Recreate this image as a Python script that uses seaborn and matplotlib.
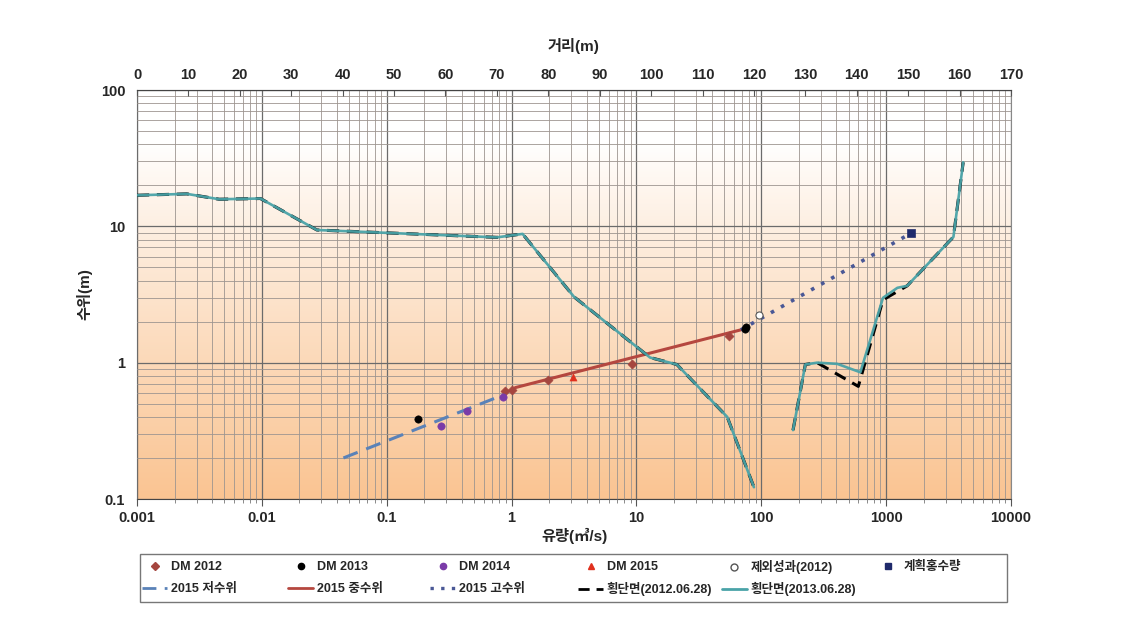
import numpy as np
import pandas as pd
import seaborn as sns
import matplotlib.pyplot as plt
from matplotlib.lines import Line2D
from matplotlib.patches import Rectangle
from matplotlib.ticker import FixedLocator, LogLocator, NullFormatter, FuncFormatter

# ---- data ----
# rating curves (discharge m3/s, stage m)
low_q = [0.045, 0.9]
low_h = [0.20, 0.59]
mid_q = [1.07, 68.5]
mid_h = [0.656, 1.74]
high_q = [68.5, 1580]
high_h = [1.74, 8.9]

# measurements
dm2012_q = [0.89, 1.0, 1.94, 9.3, 54.8]
dm2012_h = [0.624, 0.635, 0.74, 0.98, 1.58]
dm2013_q = [0.179, 75.1, 74.0]
dm2013_h = [0.383, 1.83, 1.77]
dm2014_q = [0.274, 0.443, 0.86]
dm2014_h = [0.346, 0.445, 0.564]
dm2015_q = [3.08]
dm2015_h = [0.79]
excl_q = [95.5]
excl_h = [2.24]
plan_q = [1580]
plan_h = [8.9]

# cross sections (distance m, elevation m)
xs2013_d = [0, 9.7, 16, 24, 35, 70, 75, 85, 99.8, 105, 114.8, 120, None,
            127.6, 130, 132.3, 136.2, 140.7, 145.1, 147.9, 149.8, 158.8, 160.7]
xs2013_h = [16.9, 17.3, 15.8, 16.0, 9.4, 8.3, 8.8, 3.04, 1.09, 0.97, 0.40, 0.122, None,
            0.32, 0.97, 1.0, 0.98, 0.85, 2.99, 3.54, 3.66, 8.36, 29.5]
xs2012_d = [0, 9.7, 16, 24, 35, 70, 75, 85, 99.8, 105, 114.8, 120, None,
            127.6, 130, 132.3, 140.3, 145.1, 149.8, 158.8, 160.7]
xs2012_h = [16.9, 17.3, 15.8, 16.0, 9.4, 8.3, 8.8, 3.04, 1.09, 0.97, 0.40, 0.122, None,
            0.32, 0.97, 1.0, 0.67, 2.89, 3.66, 8.36, 29.5]

x_ticks = [0.001, 0.01, 0.1, 1, 10, 100, 1000, 10000]
y_ticks = [0.1, 1, 10, 100]
top_ticks = list(range(0, 180, 10))

sns.set_style("white")
plt.rcParams['font.family'] = ['Liberation Sans', 'Noto Sans CJK KR', 'DejaVu Sans']
plt.rcParams['font.weight'] = 'bold'

W, H = 1130, 624
fig = plt.figure(figsize=(W / 100, H / 100), dpi=100)
ax = fig.add_axes([137 / W, 1 - 499 / H, 874 / W, 409 / H])
ax.set_xscale('log')
ax.set_yscale('log')
ax.set_xlim(0.001, 10000)
ax.set_ylim(0.1, 100)

# gradient background
grad = np.linspace(0, 1, 256)
t = np.clip((grad - 0.13) / 0.87, 0, 1) ** 0.9
top_c = np.array([1.0, 1.0, 1.0])
bot_c = np.array([250, 196, 146]) / 255
img = top_c[None, :] * (1 - t[:, None]) + bot_c[None, :] * t[:, None]
img = img[:, None, :]
ax.imshow(img, extent=[0, 1, 0, 1], transform=ax.transAxes, aspect='auto',
          origin='upper', zorder=0)

# grid
ax.xaxis.set_minor_locator(LogLocator(base=10, subs=np.arange(2, 10), numticks=20))
ax.yaxis.set_minor_locator(LogLocator(base=10, subs=np.arange(2, 10), numticks=20))
ax.grid(True, which='major', color='#6b6b6b', lw=0.9, zorder=1)
ax.grid(True, which='minor', color='#9d9590', lw=0.6, zorder=1)
ax.set_axisbelow(False)

ax.xaxis.set_major_locator(FixedLocator(x_ticks))
ax.yaxis.set_major_locator(FixedLocator(y_ticks))
ax.xaxis.set_major_formatter(FuncFormatter(lambda v, p: f'{v:g}'))
ax.yaxis.set_major_formatter(FuncFormatter(lambda v, p: f'{v:g}'))
ax.xaxis.set_minor_formatter(NullFormatter())
ax.yaxis.set_minor_formatter(NullFormatter())
ax.tick_params(axis='both', which='major', labelsize=10.5, length=5, color='#555555')
ax.tick_params(axis='both', which='minor', length=3, color='#777777')
ax.tick_params(axis='y', which='minor', left=False)

for s in ['left', 'bottom']:
    ax.spines[s].set_color('#444444')
for s in ['right', 'top']:
    ax.spines[s].set_color('#888888')

# rating curves
sns.lineplot(x=low_q, y=low_h, ax=ax, color='#5A82B8', lw=2.2,
             linestyle=(0, (5, 3)), zorder=4, legend=False)
sns.lineplot(x=mid_q, y=mid_h, ax=ax, color='#B5473F', lw=2.2, zorder=4, legend=False)
sns.lineplot(x=high_q, y=high_h, ax=ax, color='#4A5896', lw=2.6,
             linestyle=(0, (1, 2.2)), zorder=4, legend=False)

# measurement points
sns.scatterplot(x=dm2012_q, y=dm2012_h, ax=ax, marker='D', s=22, color='#A5463F',
                edgecolor='#A5463F', zorder=5, legend=False)
sns.scatterplot(x=dm2013_q, y=dm2013_h, ax=ax, marker='o', s=28, color='black',
                edgecolor='black', zorder=5, legend=False)
sns.scatterplot(x=dm2014_q, y=dm2014_h, ax=ax, marker='o', s=28, color='#7A3BA8',
                edgecolor='#7A3BA8', zorder=5, legend=False)
sns.scatterplot(x=dm2015_q, y=dm2015_h, ax=ax, marker='^', s=26, color='#E0301E',
                edgecolor='#E0301E', zorder=5, legend=False)
sns.scatterplot(x=excl_q, y=excl_h, ax=ax, marker='o', s=26, color='white',
                edgecolor='#555555', linewidth=0.8, zorder=5, legend=False)
sns.scatterplot(x=plan_q, y=plan_h, ax=ax, marker='s', s=36, color='#1F2A6B',
                edgecolor='#1F2A6B', zorder=5, legend=False)

ax.set_xlabel('유량(㎥/s)', fontsize=11, fontweight='bold', labelpad=2)
ax.set_ylabel('수위(m)', fontsize=11, fontweight='bold', labelpad=6)

# top axis: distance
ax2 = ax.twiny()
ax2.set_xlim(0, 170)
ax2.set_xticks(top_ticks)
ax2.tick_params(axis='x', labelsize=10.5, length=4, direction='in', color='#555555', pad=6)
for s in ax2.spines.values():
    s.set_visible(False)
ax2.spines['top'].set_visible(True)
ax2.spines['top'].set_color('#444444')
ax2.set_xlabel('거리(m)', fontsize=11, fontweight='bold', labelpad=12)

xs12 = np.array([np.nan if v is None else v for v in xs2012_d], dtype=float)
xs12h = np.array([np.nan if v is None else v for v in xs2012_h], dtype=float)
xs13 = np.array([np.nan if v is None else v for v in xs2013_d], dtype=float)
xs13h = np.array([np.nan if v is None else v for v in xs2013_h], dtype=float)
ax2.plot(xs12, xs12h, color='black', lw=2.2, linestyle=(0, (4, 2.5)), zorder=3)
ax2.plot(xs13, xs13h, color='#4AA3A8', lw=1.9, zorder=3, alpha=0.95)

# legend: one entry per small legend, placed on a fixed grid inside a frame
def mk(**kw):
    return Line2D([], [], **kw)

row1 = [(mk(marker='D', color='#A5463F', ls='', ms=4), 'DM 2012'),
        (mk(marker='o', color='black', ls='', ms=4.5), 'DM 2013'),
        (mk(marker='o', color='#7A3BA8', ls='', ms=4.5), 'DM 2014'),
        (mk(marker='^', color='#E0301E', ls='', ms=4.5), 'DM 2015'),
        (mk(marker='o', mfc='white', mec='#555555', ls='', ms=5), '제외성과(2012)'),
        (mk(marker='s', color='#1F2A6B', ls='', ms=5), '계획홍수량')]
row2 = [(mk(color='#5A82B8', lw=2, ls=(0, (5, 3))), '2015 저수위'),
        (mk(color='#B5473F', lw=2), '2015 중수위'),
        (mk(color='#4A5896', lw=2.4, ls=(0, (1, 2.2))), '2015 고수위'),
        (mk(color='black', lw=2, ls=(0, (4, 2.5))), '횡단면(2012.06.28)'),
        (mk(color='#4AA3A8', lw=2), '횡단면(2013.06.28)')]
col_x = [142, 288, 430, 578, 722, 875]
for row, ry in [(row1, 567), (row2, 589)]:
    for cx, (hd, lb) in zip(col_x, row):
        lg = fig.legend([hd], [lb], loc='center left', bbox_to_anchor=(cx / W, 1 - ry / H),
                        frameon=False, fontsize=9, handlelength=2.0, handletextpad=0.3,
                        borderpad=0, borderaxespad=0)
        for txt in lg.get_texts():
            txt.set_fontweight('bold')

fig.patches.append(Rectangle((140 / W, 1 - 602 / H), 867 / W, 48 / H,
                             transform=fig.transFigure, fill=False,
                             edgecolor='#777777', lw=1.0))

fig.savefig('out.png', dpi=100)
